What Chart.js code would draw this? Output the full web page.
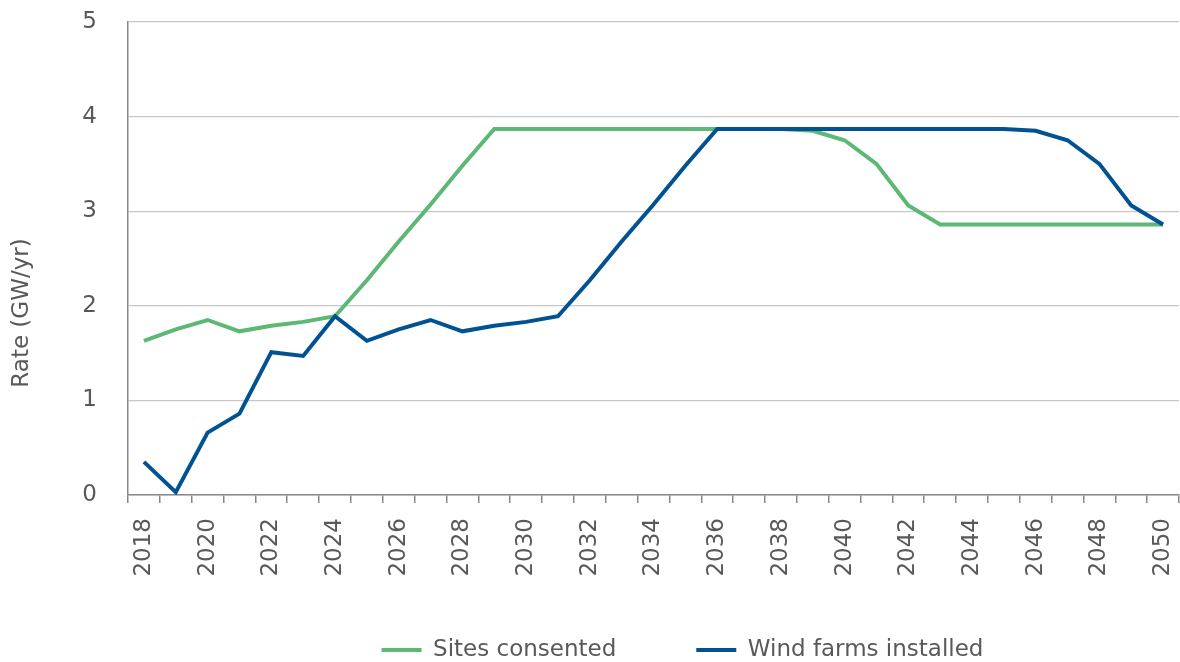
<!DOCTYPE html>
<html>
<head>
<meta charset="utf-8">
<script src="https://cdn.jsdelivr.net/npm/chart.js@4.4.1/dist/chart.umd.min.js"></script>
<style>
html,body{margin:0;padding:0;background:#fff;}
#wrap{width:1180px;height:662px;position:relative;}
</style>
</head>
<body>
<div id="wrap"><canvas id="c" width="1180" height="662"></canvas></div>
<script>
const years = ['2018','2019','2020','2021','2022','2023','2024','2025','2026','2027','2028','2029','2030','2031','2032','2033','2034','2035','2036','2037','2038','2039','2040','2041','2042','2043','2044','2045','2046','2047','2048','2049','2050'];
const sitesConsented = [1.63,1.75,1.85,1.73,1.79,1.83,1.89,2.27,2.68,3.07,3.48,3.87,3.87,3.87,3.87,3.87,3.87,3.87,3.87,3.87,3.87,3.85,3.75,3.50,3.06,2.86,2.86,2.86,2.86,2.86,2.86,2.86,2.86];
const windFarmsInstalled = [0.35,0.03,0.66,0.86,1.51,1.47,1.89,1.63,1.75,1.85,1.73,1.79,1.83,1.89,2.27,2.68,3.07,3.48,3.87,3.87,3.87,3.87,3.87,3.87,3.87,3.87,3.87,3.87,3.85,3.75,3.50,3.06,2.86];
const yTicks = [0,1,2,3,4,5];
const seriesNames = ['Sites consented','Wind farms installed'];

const FONT = 'DejaVu Sans';
const TXT = '#595959';

const layoutTweaks = {
  id:'layoutTweaks',
  afterLayout(chart){
    const lg = chart.legend;
    if (lg){
      lg.left += 93; lg.right += 93;
      lg.top = 558.5; lg.bottom = 662;
    }
    const ys = chart.scales.y;
    if (ys && !ys._titlePatched){
      const orig = ys.drawTitle;
      ys.drawTitle = function(){
        const t = this.top;
        this.top = t + 109;
        orig.call(this);
        this.top = t;
      };
      ys._titlePatched = true;
    }
  }
};

new Chart(document.getElementById('c'), {
  type: 'line',
  data: {
    labels: years,
    datasets: [
      {label: seriesNames[0], data: sitesConsented, borderColor:'#5cb874', backgroundColor:'#5cb874', borderWidth:4, pointRadius:0, tension:0, order:1},
      {label: seriesNames[1], data: windFarmsInstalled, borderColor:'#005293', backgroundColor:'#005293', borderWidth:4, pointRadius:0, tension:0, order:0}
    ]
  },
  plugins:[layoutTweaks],
  options: {
    responsive:false, animation:false, devicePixelRatio:1,
    layout:{padding:{top:22,right:1,left:0,bottom:0}},
    plugins:{
      tooltip:{enabled:false},
      legend:{
        position:'bottom',
        maxHeight:72,
        labels:{
          usePointStyle:true, pointStyle:'line', pointStyleWidth:40, boxHeight:4,
          color:TXT, font:{family:FONT,size:23}, padding:80,
          sort:(a,b)=>a.datasetIndex-b.datasetIndex
        }
      }
    },
    scales:{
      x:{
        type:'category', offset:true,
        grid:{display:true, drawOnChartArea:false, drawTicks:true, tickLength:8, offset:true, color:'#888', lineWidth:1.5},
        border:{display:true, color:'#888', width:1.5},
        ticks:{autoSkip:false, maxRotation:90, minRotation:90, padding:15, color:TXT, font:{family:FONT,size:23},
          callback:function(v,i){ return i%2===0 ? years[i] : ''; }},
        afterFit:(s)=>{ s.height = 95; s.paddingLeft = 0; s.paddingRight = 0; }
      },
      y:{
        min:0, max:5,
        afterBuildTicks:(s)=>{ s.ticks = yTicks.map(v=>({value:v})); },
        grid:{color:'#c8c8c8', lineWidth:1.3, drawTicks:false},
        border:{display:true, color:'#888', width:1.5},
        ticks:{padding:31, color:TXT, font:{family:FONT,size:23}},
        title:{display:true, text:'Rate (GW/yr)', color:TXT, font:{family:FONT,size:23}, padding:{top:8,bottom:0}},
        afterFit:(s)=>{ s.width = 128; s.paddingTop = 0; s.paddingBottom = 0; }
      }
    }
  }
});
</script>
</body>
</html>
